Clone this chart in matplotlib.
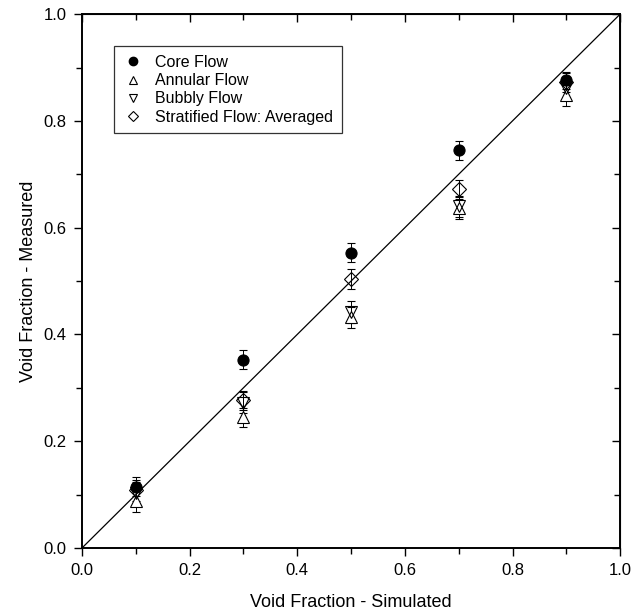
import numpy as np
import matplotlib.pyplot as plt
from matplotlib.ticker import MultipleLocator
from matplotlib.lines import Line2D

plt.rcParams['font.family'] = ['Liberation Sans', 'DejaVu Sans']

# simulated void fraction (x) and measured values for each flow model
simulated = [0.1, 0.3, 0.5, 0.7, 0.9]
core = [0.115, 0.353, 0.553, 0.745, 0.876]
core_err = [0.018, 0.018, 0.018, 0.018, 0.016]
annular = [0.088, 0.245, 0.432, 0.637, 0.848]
annular_err = [0.02, 0.018, 0.02, 0.02, 0.02]
bubbly = [0.103, 0.272, 0.442, 0.640, 0.862]
bubbly_err = [0.02, 0.02, 0.02, 0.02, 0.02]
stratified = [0.108, 0.277, 0.504, 0.672, 0.872]
stratified_err = [0.02, 0.018, 0.018, 0.018, 0.018]

labels = ['Core Flow', 'Annular Flow', 'Bubbly Flow', 'Stratified Flow: Averaged']


def set_ticks(axis):
    axis.set_major_locator(MultipleLocator(0.2))
    axis.set_minor_locator(MultipleLocator(0.1))


def main():
    fig = plt.figure(figsize=(6.38, 6.14), dpi=100)
    ax = fig.add_axes([0.1285, 0.1075, 0.8435, 0.8695])

    ax.plot([0, 1], [0, 1], color='black', lw=0.9, zorder=1)

    common = dict(ls='none', ecolor='black', elinewidth=0.7, capsize=3,
                  capthick=0.7, markeredgecolor='black', markeredgewidth=0.8, zorder=3)
    ax.errorbar(simulated, core, yerr=core_err, fmt='o', ms=8,
                markerfacecolor='black', **common)
    ax.errorbar(simulated, annular, yerr=annular_err, fmt='^', ms=9,
                markerfacecolor='white', **common)
    ax.errorbar(simulated, bubbly, yerr=bubbly_err, fmt='v', ms=9,
                markerfacecolor='none', **common)
    ax.errorbar(simulated, stratified, yerr=stratified_err, fmt='D', ms=7,
                markerfacecolor='none', **common)

    ax.set_xlim(0, 1)
    ax.set_ylim(0, 1)
    set_ticks(ax.xaxis)
    set_ticks(ax.yaxis)
    ax.xaxis.set_major_formatter('{x:.1f}')
    ax.yaxis.set_major_formatter('{x:.1f}')
    ax.tick_params(which='major', direction='out', length=6, width=1, labelsize=12, pad=5)
    ax.tick_params(which='minor', direction='out', length=4, width=1)
    for s in ax.spines.values():
        s.set_linewidth(1.4)

    # mirrored ticks on top/right pointing into the plot
    top = ax.secondary_xaxis('top')
    right = ax.secondary_yaxis('right')
    set_ticks(top.xaxis)
    set_ticks(right.yaxis)
    for sec in (top, right):
        sec.tick_params(which='major', direction='in', length=6, width=1)
        sec.tick_params(which='minor', direction='in', length=4, width=1)
    top.set_xticklabels([])
    right.set_yticklabels([])

    ax.set_xlabel('Void Fraction - Simulated', fontsize=13, labelpad=11)
    ax.set_ylabel('Void Fraction - Measured', fontsize=13, labelpad=5)

    handles = [
        Line2D([], [], ls='none', marker='o', ms=6, mfc='black', mec='black'),
        Line2D([], [], ls='none', marker='^', ms=6, mfc='white', mec='black', mew=0.8),
        Line2D([], [], ls='none', marker='v', ms=6, mfc='white', mec='black', mew=0.8),
        Line2D([], [], ls='none', marker='D', ms=5, mfc='white', mec='black', mew=0.8),
    ]
    leg = ax.legend(handles, labels, loc='upper left', bbox_to_anchor=(0.045, 0.955),
                    fontsize=11.5, frameon=True, fancybox=False, edgecolor='black',
                    handlelength=1.2, handletextpad=0.8, borderpad=0.55,
                    labelspacing=0.2)
    leg.get_frame().set_linewidth(0.9)

    fig.savefig('out.png', dpi=100)


if __name__ == '__main__':
    main()
